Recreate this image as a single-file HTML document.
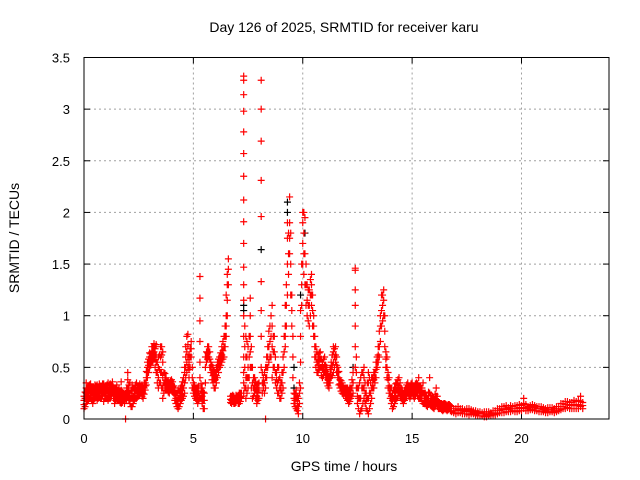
<!DOCTYPE html>
<html><head><meta charset="utf-8"><style>
html,body{margin:0;padding:0;background:#fff}
svg{display:block;font-family:"Liberation Sans",sans-serif}
</style></head><body>
<svg id="chart" width="640" height="480" xmlns="http://www.w3.org/2000/svg">
<rect width="640" height="480" fill="#fff"/>
<text x="344" y="32" font-size="14" text-anchor="middle">Day 126 of 2025, SRMTID for receiver karu</text>
<text x="344" y="471" font-size="14" text-anchor="middle">GPS time / hours</text>
<text x="19" y="238" font-size="14" text-anchor="middle" transform="rotate(-90 19 238)">SRMTID / TECUs</text>
<g id="grid"></g>
<g id="ticks"></g>
<g id="black"></g>
<g id="red"></g>
<rect x="84" y="57.5" width="525" height="361.5" fill="none" stroke="#000" stroke-width="1"/>
</svg>
<script>
const xTicks = [0,5,10,15,20];
const yTicks = [0,0.5,1,1.5,2,2.5,3,3.5];
const yTickLabels = ["0","0.5","1","1.5","2","2.5","3","3.5"];
const redData = [
[0.0,[.1,.14,.18,.22]],[0.05,[.12,.2,.26]],[0.1,[.15,.2,.25,.3,.35]],[0.15,[.17,.24,.3]],[0.2,[.18,.22,.26,.3]],[0.25,[.2,.27,.33]],[0.3,[.2,.24,.28,.34]],[0.35,[.18,.25,.3]],[0.4,[.15,.2,.25,.3]],[0.45,[.18,.24,.3]],[0.5,[.2,.25,.3,.33]],[0.55,[.22,.28,.32]],
[0.6,[.18,.23,.28,.33]],[0.65,[.2,.26,.31]],[0.7,[.22,.26,.3,.34]],[0.75,[.2,.27,.32]],[0.8,[.2,.26,.32]],[0.85,[.22,.28,.34]],[0.9,[.17,.25,.3,.34]],[0.95,[.2,.26,.31]],[1.0,[.22,.26,.3]],[1.05,[.2,.27,.33]],[1.1,[.18,.24,.28,.35]],[1.15,[.2,.26,.32]],
[1.2,[.2,.25,.3,.34]],[1.25,[.22,.28,.33]],[1.3,[.25,.28,.32,.36]],[1.35,[.2,.26,.3]],[1.4,[.15,.2,.25,.3]],[1.45,[.18,.24,.29]],[1.5,[.2,.24,.28,.33]],[1.55,[.18,.23,.28]],[1.6,[.18,.22,.25,.3]],[1.65,[.16,.21,.26]],[1.7,[.15,.22,.28,.36]],[1.75,[.16,.21,.26]],
[1.8,[.18,.22,.25]],[1.85,[.15,.2,.24]],[1.9,[0,.2,.25]],[1.95,[.18,.24,.3]],[2.0,[.22,.3,.38,.45]],[2.05,[.18,.26,.33]],[2.1,[.15,.2,.25,.35]],[2.15,[.12,.2,.28]],[2.2,[.12,.2,.28,.33]],[2.25,[.15,.22,.3]],[2.3,[.18,.24,.3]],[2.35,[.2,.27,.33]],
[2.4,[.2,.28,.35]],[2.45,[.22,.28,.32]],[2.5,[.22,.26,.3]],[2.55,[.24,.3,.34]],[2.6,[.25,.29,.32]],[2.65,[.22,.28,.33]],[2.7,[.2,.25,.3]],[2.75,[.24,.3,.35]],[2.8,[.28,.32,.35]],[2.85,[.33,.4,.46]],[2.9,[.4,.45,.5,.55]],[2.95,[.45,.52,.58]],[3.0,[.5,.55,.6,.64]],
[3.05,[.52,.58,.63]],[3.1,[.55,.6,.65,.7]],[3.15,[.56,.64,.7]],[3.2,[.6,.65,.7,.73]],[3.25,[.5,.6,.68]],[3.3,[.45,.55,.62,.72]],[3.35,[.35,.45,.55]],[3.4,[.3,.4,.5,.6]],[3.45,[.35,.48,.62]],[3.5,[.35,.45,.6,.7]],[3.55,[.3,.45,.62,.7]],[3.6,[.2,.3,.4,.55,.65]],
[3.65,[.25,.35,.45]],[3.7,[.3,.35,.4,.44]],[3.75,[.28,.34,.4]],[3.8,[.28,.32,.36]],[3.85,[.26,.32,.37]],[3.9,[.25,.3,.35]],[3.95,[.28,.33,.37]],[4.0,[.3,.34,.38]],[4.05,[.26,.31,.36]],[4.1,[.25,.28,.32]],[4.15,[.18,.24,.3]],[4.2,[.15,.2,.25]],[4.25,[.12,.18,.25]],
[4.3,[.1,.15,.2,.28]],[4.35,[.12,.2,.27]],[4.4,[.15,.2,.25,.3]],[4.45,[.18,.25,.32]],[4.5,[.2,.25,.3,.36]],[4.55,[.22,.3,.4]],[4.6,[.25,.35,.45,.5]],[4.65,[.4,.5,.6,.7]],[4.7,[.45,.55,.65,.8]],[4.75,[.5,.6,.72,.82]],[4.8,[.4,.48,.55,.62]],[4.85,[.5,.6,.68]],
[4.9,[.6,.68,.75]],[4.95,[.3,.4,.5]],[5.0,[.25,.3,.35]],[5.05,[.22,.28,.33]],[5.1,[.2,.25,.3]],[5.15,[.18,.24,.3]],[5.2,[.15,.2,.25,.3]],[5.25,[.18,.25,.32]],[5.3,[.2,.4,.55,.75,.95,1.17,1.38]],[5.35,[.2,.27,.34]],
[5.4,[.15,.22,.3]],[5.45,[.1,.18,.26]],[5.5,[.1,.18,.25]],[5.55,[.35,.5,.6]],[5.6,[.55,.6,.65]],[5.65,[.58,.64,.7]],[5.7,[.6,.65,.7]],[5.75,[.5,.58,.65]],[5.8,[.45,.5,.55]],[5.85,[.38,.45,.52]],[5.9,[.35,.42,.5]],[5.95,[.3,.38,.46]],[6.0,[.3,.38,.45]],
[6.05,[.35,.42,.5]],[6.1,[.4,.48,.55]],[6.15,[.45,.52,.58]],[6.2,[.5,.55,.6]],[6.25,[.52,.58,.64]],[6.3,[.55,.62,.7]],[6.35,[.58,.66,.75]],[6.4,[.6,.7,.8]],[6.45,[.7,.8,.9]],[6.5,[.8,.9,1.0,1.2]],[6.55,[1.0,1.15,1.3,1.4]],[6.6,[1.3,1.45,1.55]],
[6.7,[.16,.19,.22]],[6.75,[.15,.18,.22]],[6.8,[.17,.2,.23]],[6.85,[.15,.19,.22]],[6.9,[.15,.18,.2]],[6.95,[.16,.19,.23]],[7.0,[.18,.2,.22]],[7.05,[.15,.19,.23]],[7.1,[.15,.2,.25]],[7.15,[.17,.21,.25]],[7.2,[.2,.22,.25]],
[7.3,[.25,.35,.45,.6,.8,1.0,1.15,1.3,1.47,1.7,1.91,2.12,2.35,2.57,2.78,2.98,3.14,3.28,3.32]],[7.35,[.3,.5,.7,.9]],
[7.4,[.2,.3,.4,.6,.8]],[7.45,[.25,.4,.6,.75]],[7.5,[.3,.4,.5,.7]],[7.55,[.4,.6,.8]],[7.6,[.5,.65,.8,1.0,1.17]],[7.65,[.3,.5,.7]],[7.7,[.2,.35,.5]],[7.75,[.22,.3,.4]],[7.8,[.25,.32,.4]],[7.85,[.2,.28,.36]],
[7.9,[.15,.22,.3]],[7.95,[.18,.26,.34]],[8.0,[.2,.28,.35]],[8.1,[.5,.8,1.05,1.33,1.96,2.31,2.69,3.0,3.28]],[8.15,[.25,.35,.45]],[8.2,[.3,.35,.4]],[8.25,[.25,.35,.45]],
[8.3,[0,.3,.4,.5]],[8.35,[.4,.5,.6]],[8.4,[.5,.6,.7]],[8.45,[.55,.7,.85]],[8.5,[.6,.75,.9]],[8.55,[.6,.8,1.0]],[8.6,[.4,.7,.9,1.1]],[8.65,[.5,.65,.8]],[8.7,[.5,.65,.8]],[8.75,[.35,.45,.6]],[8.8,[.3,.38,.45]],
[8.85,[.25,.35,.5]],[8.9,[.25,.38,.5]],[8.95,[.2,.3,.4]],[9.0,[.2,.28,.35]],[9.05,[.25,.35,.45]],[9.1,[.3,.45,.6]],[9.15,[.5,.65,.8]],[9.2,[.7,.8,.9,1.1]],[9.25,[.9,1.1,1.3]],[9.3,[1.2,1.5,1.75,1.9]],[9.35,[1.4,1.6,1.8]],[9.4,[1.6,1.75,1.9,2.15]],
[9.45,[1.2,1.5,1.8]],[9.5,[.9,1.05,1.2]],[9.55,[.4,.6,.8]],[9.6,[.15,.2,.25]],[9.65,[.12,.18,.24]],[9.7,[.1,.2,.28]],[9.75,[.08,.15,.22]],[9.8,[.05,.12,.2]],[9.85,[.15,.25,.35]],[9.9,[.3,.55,.8,1.05]],[9.95,[1.1,1.3,1.5]],
[10.0,[1.5,1.7,1.9,2.0]],[10.05,[1.4,1.6,1.8,2.0]],[10.1,[1.3,1.6,1.95]],[10.15,[1.1,1.3,1.5]],[10.2,[1.0,1.15,1.3]],[10.25,[.95,1.1,1.25]],[10.3,[.9,1.1,1.25]],[10.35,[1.0,1.2,1.35]],[10.4,[1.1,1.2,1.3,1.4]],[10.45,[.9,1.05,1.2]],
[10.5,[.8,.9,1.0]],[10.55,[.6,.7,.8]],[10.6,[.5,.6,.7]],[10.65,[.45,.55,.65]],[10.7,[.45,.52,.6]],[10.75,[.48,.56,.64]],[10.8,[.5,.58,.65]],[10.85,[.42,.5,.58]],[10.9,[.4,.48,.55]],[10.95,[.42,.5,.58]],[11.0,[.45,.52,.6]],
[11.05,[.4,.46,.52]],[11.1,[.35,.42,.5]],[11.15,[.32,.38,.44]],[11.2,[.3,.35,.4]],[11.25,[.35,.42,.48]],[11.3,[.4,.48,.55]],[11.35,[.42,.52,.62]],[11.4,[.45,.55,.65,.7]],[11.45,[.5,.6,.68]],[11.5,[.55,.62,.7]],[11.55,[.45,.52,.6]],[11.6,[.4,.45,.5]],
[11.65,[.33,.4,.46]],[11.7,[.3,.34,.38]],[11.75,[.27,.32,.37]],[11.8,[.25,.3,.35]],[11.85,[.24,.28,.32]],[11.9,[.25,.28,.3]],[11.95,[.22,.26,.3]],[12.0,[.2,.25,.3]],[12.05,[.18,.24,.3]],[12.1,[.15,.22,.28]],[12.15,[.17,.24,.3]],[12.2,[.2,.25,.3]],
[12.25,[.22,.3,.38]],[12.3,[.25,.35,.45]],[12.4,[.5,.7,.9,1.1,1.25,1.44,1.46]],[12.45,[.3,.45,.6]],[12.5,[.15,.22,.3]],[12.55,[.1,.2,.3]],[12.6,[.05,.2,.35]],[12.65,[.08,.2,.4]],[12.7,[.1,.3,.45]],[12.75,[.15,.3,.45]],
[12.8,[.2,.3,.4,.5]],[12.85,[.15,.25,.35]],[12.9,[.1,.18,.25]],[12.95,[.08,.2,.35]],[13.0,[.05,.2,.35,.45]],[13.05,[.1,.25,.4]],[13.1,[.15,.25,.35]],[13.15,[.2,.3,.4]],[13.2,[.3,.35,.4]],[13.25,[.3,.38,.45]],[13.3,[.35,.4,.45]],
[13.35,[.4,.48,.55]],[13.4,[.5,.55,.6]],[13.45,[.55,.62,.7]],[13.5,[.6,.7,.85]],[13.55,[.75,.9,1.0]],[13.6,[.9,1.05,1.2]],[13.65,[.95,1.1,1.2]],[13.7,[1.0,1.15,1.25]],[13.75,[.7,.85,1.0]],[13.8,[.5,.58,.65]],
[13.85,[.4,.5,.6]],[13.9,[.3,.38,.45]],[13.95,[.25,.32,.4]],[14.0,[.2,.25,.3]],[14.05,[.15,.22,.3]],[14.1,[.1,.18,.25]],[14.15,[.12,.2,.28]],[14.2,[.15,.22,.3]],[14.25,[.18,.26,.34]],[14.3,[.2,.28,.35]],[14.35,[.22,.3,.38]],
[14.4,[.25,.32,.4]],[14.45,[.22,.28,.35]],[14.5,[.2,.25,.3]],[14.55,[.18,.23,.28]],[14.6,[.15,.2,.25]],[14.65,[.18,.23,.28]],[14.7,[.2,.25,.3]],[14.75,[.22,.28,.33]],[14.8,[.25,.3,.35]],[14.85,[.22,.27,.32]],
[14.9,[.2,.25,.3]],[14.95,[.22,.28,.34]],[15.0,[.25,.3,.35]],[15.05,[.22,.27,.32]],[15.1,[.2,.25,.3]],[15.15,[.22,.28,.34]],[15.2,[.25,.3,.35]],[15.25,[.22,.28,.34]],[15.3,[.2,.3,.4]],[15.35,[.2,.26,.32]],[15.4,[.2,.25,.3]],
[15.45,[.17,.24,.3]],[15.5,[.15,.25,.35]],[15.55,[.15,.2,.25]],[15.6,[.15,.2,.25]],[15.65,[.13,.18,.23]],[15.7,[.12,.16,.2]],[15.75,[.14,.2,.26]],[15.8,[.15,.25,.4]],[15.85,[.13,.18,.23]],[15.9,[.12,.16,.2]],[15.95,[.11,.15,.19]],
[16.0,[.1,.14,.18]],[16.05,[.12,.18,.24]],[16.1,[.15,.22,.3]],[16.15,[.12,.17,.22]],[16.2,[.1,.14,.17]],[16.25,[.1,.13,.16]],[16.3,[.1,.12,.15]],[16.35,[.09,.12,.15]],[16.4,[.08,.11,.14]],[16.45,[.09,.12,.15]],[16.5,[.1,.12,.15]],
[16.55,[.09,.12,.14]],[16.6,[.08,.1,.13]],[16.65,[.09,.12,.14]],[16.7,[.1,.12,.14]],[16.75,[.08,.1,.13]],[16.8,[.07,.1,.12]],[16.9,[.06,.08,.1]],[17.0,[.05,.08,.1]],[17.1,[.06,.09,.12]],[17.2,[.06,.08,.1]],[17.3,[.05,.08,.1]],
[17.4,[.05,.07,.09]],[17.5,[.05,.08,.1]],[17.6,[.04,.07,.1]],[17.7,[.05,.07,.09]],[17.8,[.05,.06,.08]],[17.9,[.04,.06,.08]],[18.0,[.03,.05,.07]],[18.1,[.03,.05,.07]],[18.2,[.03,.05,.06]],[18.3,[.02,.05,.07]],
[18.4,[.02,.04,.07]],[18.5,[.03,.05,.07]],[18.6,[.03,.05,.06]],[18.7,[.04,.06,.08]],[18.8,[.04,.06,.08]],[18.9,[.05,.08,.1]],[19.0,[.06,.08,.1]],[19.1,[.06,.09,.12]],[19.2,[.06,.09,.12]],[19.3,[.07,.1,.13]],[19.4,[.07,.09,.11]],
[19.5,[.07,.1,.13]],[19.6,[.08,.1,.12]],[19.7,[.07,.1,.13]],[19.8,[.07,.1,.13]],[19.9,[.08,.11,.14]],[20.0,[.08,.1,.13]],[20.1,[.1,.15,.2]],[20.2,[.08,.11,.14]],[20.3,[.08,.1,.12]],[20.4,[.09,.11,.13]],[20.5,[.09,.12,.14]],
[20.6,[.08,.11,.13]],[20.7,[.08,.1,.12]],[20.8,[.07,.1,.12]],[20.9,[.07,.1,.12]],[21.0,[.07,.09,.11]],[21.1,[.06,.08,.1]],[21.2,[.06,.09,.11]],[21.3,[.07,.09,.11]],[21.4,[.07,.09,.11]],[21.5,[.06,.08,.1]],
[21.6,[.07,.1,.12]],[21.7,[.08,.1,.12]],[21.8,[.09,.12,.15]],[21.9,[.1,.12,.15]],[22.0,[.1,.14,.17]],[22.1,[.11,.14,.17]],[22.2,[.1,.13,.16]],[22.3,[.1,.13,.16]],[22.4,[.1,.14,.18]],[22.5,[.1,.13,.17]],
[22.6,[.1,.14,.18]],[22.7,[.12,.17,.22]],[22.8,[.1,.13,.16]]
];
const blackData = [
[7.3,[1.05,1.1]],[8.1,[1.64]],[9.3,[2.0,2.1]],[9.6,[.3,.5]],[9.9,[1.2]],[12.3,[.5]],[10.1,[1.8]]
];

const X0=84, X1=609, Y0=419, Y1=57.5, XMAX=24, YMAX=3.5;
const xs = t => X0 + t/XMAX*(X1-X0);
const ys = v => Y0 - v/YMAX*(Y0-Y1);
const NS="http://www.w3.org/2000/svg";
function mk(tag, attrs, parent){const e=document.createElementNS(NS,tag);for(const k in attrs)e.setAttribute(k,attrs[k]);parent.appendChild(e);return e;}
const grid=document.getElementById('grid'), ticks=document.getElementById('ticks');
xTicks.forEach((t,i)=>{
  const x=xs(t);
  if(t>0){const g=mk('line',{x1:x,x2:x,y1:Y1,y2:Y0,stroke:'#a0a0a0','stroke-dasharray':'2,3'},grid);
  
  }
  mk('line',{x1:x,x2:x,y1:Y0,y2:Y0-6,stroke:'#000'},ticks);
  mk('line',{x1:x,x2:x,y1:Y1,y2:Y1+6,stroke:'#000'},ticks);
  const l=mk('text',{x:x,y:443,'font-size':13,'text-anchor':'middle'},ticks);
  l.textContent=String(t);
  
  
});
yTicks.forEach((v,i)=>{
  const y=ys(v);
  if(v>0&&v<YMAX){const g=mk('line',{x1:X0,x2:X1,y1:y,y2:y,stroke:'#a0a0a0','stroke-dasharray':'2,3'},grid);
  
  }
  mk('line',{x1:X0,x2:X0+6,y1:y,y2:y,stroke:'#000'},ticks);
  mk('line',{x1:X1,x2:X1-6,y1:y,y2:y,stroke:'#000'},ticks);
  const l=mk('text',{x:70,y:y+5,'font-size':13,'text-anchor':'end'},ticks);
  l.textContent=yTickLabels[i];
  
  
});
function draw(data,color,gid){
  const g=document.getElementById(gid);let d='';
  data.forEach(([t,vals])=>vals.forEach(v=>{const x=xs(t),y=ys(v);d+=`M${x-3.5},${y}h7M${x},${y-3.5}v7`;}));
  const p=mk('path',{d:d,stroke:color,'stroke-width':1.2,fill:'none'},g);
  
  
}
draw(blackData,'#000','black');
draw(redData,'#ff0000','red');
</script>
</body></html>
